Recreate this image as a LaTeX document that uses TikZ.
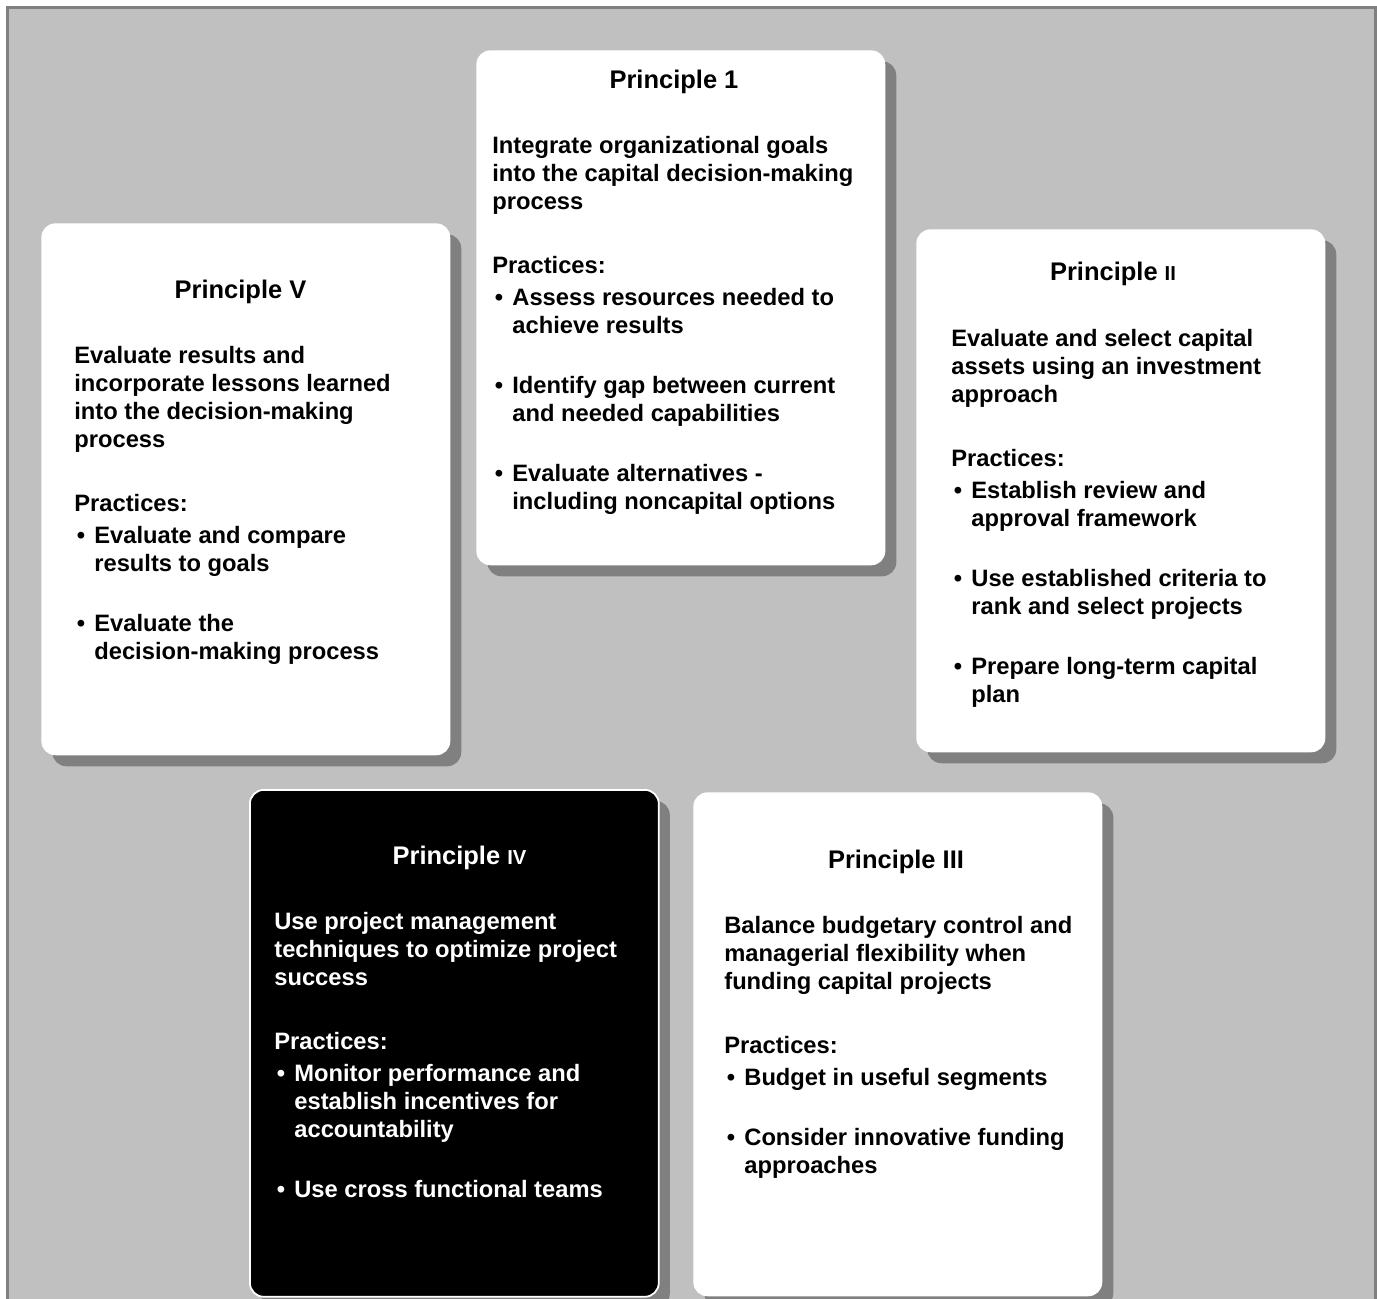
\documentclass[tikz,border=0pt]{standalone}
\usepackage{fontspec}
\setmainfont{Liberation Sans}
\usepackage{tikz}
\usetikzlibrary{shadows}
\definecolor{panel}{HTML}{C0C0C0}
\definecolor{shade}{HTML}{808080}
\newcommand{\bul}{\makebox[11.4pt][l]{\hspace*{1.5pt}\textbullet}}
\newcommand{\hang}{\hspace*{11.4pt}}
\newcommand{\numsmall}[1]{{\fontsize{11.5}{11.5}\selectfont\bfseries #1}}
\tikzset{
  card/.style={
    rounded corners=0.28cm, fill=white, anchor=north west,
    minimum width=8.18cm, minimum height=#1, inner sep=0pt,
    drop shadow={shadow xshift=0.22cm, shadow yshift=-0.22cm, fill=shade, opacity=1}
  },
  card/.default=10.3cm,
  darkcard/.style={card=#1, fill=black, draw=white, line width=1pt},
  cardtitle/.style={anchor=base, inner sep=0pt, font=\fontsize{14.5}{17}\selectfont\bfseries},
  % top strut of 12pt, so the node's north sits 21.1 units above the first baseline
  cardtext/.style={anchor=north west, align=left, inner sep=0pt,
    font=\fontsize{13.5}{15.93}\selectfont\bfseries,
    execute at begin node={\rule{0pt}{12pt}}}
}

\begin{document}
\begin{tikzpicture}[x=0.02cm, y=-0.02cm]
    \useasboundingbox (0,0) rectangle (1377,1299);
    \fill[white] (0,0) rectangle (1377,1299);
    % Grey panel
    \draw[draw=shade, fill=panel, line width=1.7pt] (7.5,7.5) rectangle (1375.5,1340);

    % Principle 1
    \node[card=10.3cm] (p1) at (476,50) {};
    \node[cardtitle] (t1) at (674,88) {Principle 1};
    \node[cardtext] (b1) at (492,135.9) {Integrate organizational goals\\ into the capital decision-making\\ process\\[20.5pt]
      Practices:\\[2.3pt]
      \bul Assess resources needed to\\ \hang achieve results\\[18.2pt]
      \bul Identify gap between current\\ \hang and needed capabilities\\[18.2pt]
      \bul Evaluate alternatives -\\ \hang including noncapital options};

    % Principle V
    \node[card=10.64cm] (p5) at (41,223) {};
    \node[cardtitle] (t5) at (240.5,298) {Principle V};
    \node[cardtext] (b5) at (74,345.9) {Evaluate results and\\ incorporate lessons learned\\ into the decision-making\\ process\\[20.5pt]
      Practices:\\[2.3pt]
      \bul Evaluate and compare\\ \hang results to goals\\[18.2pt]
      \bul Evaluate the\\ \hang decision-making process};

    % Principle II
    \node[card=10.46cm] (p2) at (916,229) {};
    \node[cardtitle] (t2) at (1113,280) {Principle \numsmall{II}};
    \node[cardtext] (b2) at (951,328.9) {Evaluate and select capital\\ assets using an investment\\ approach\\[20.5pt]
      Practices:\\[2.3pt]
      \bul Establish review and\\ \hang approval framework\\[18.2pt]
      \bul Use established criteria to\\ \hang rank and select projects\\[18.2pt]
      \bul Prepare long-term capital\\ \hang plan};

    % Principle IV
    \node[darkcard=10.14cm] (p4) at (249,789) {};
    \node[cardtitle, text=white] (t4) at (459.5,864) {Principle \numsmall{IV}};
    \node[cardtext, text=white] (b4) at (274,911.9) {Use project management\\ techniques to optimize project\\ success\\[20.5pt]
      Practices:\\[2.3pt]
      \bul Monitor performance and\\ \hang establish incentives for\\ \hang accountability\\[18.2pt]
      \bul Use cross functional teams};

    % Principle III
    \node[card=10.08cm] (p3) at (693,792) {};
    \node[cardtitle] (t3) at (896,868) {Principle III};
    \node[cardtext] (b3) at (724,915.9) {Balance budgetary control and\\ managerial flexibility when\\ funding capital projects\\[20.5pt]
      Practices:\\[2.3pt]
      \bul Budget in useful segments\\[18.2pt]
      \bul Consider innovative funding\\ \hang approaches};
\end{tikzpicture}
\end{document}
